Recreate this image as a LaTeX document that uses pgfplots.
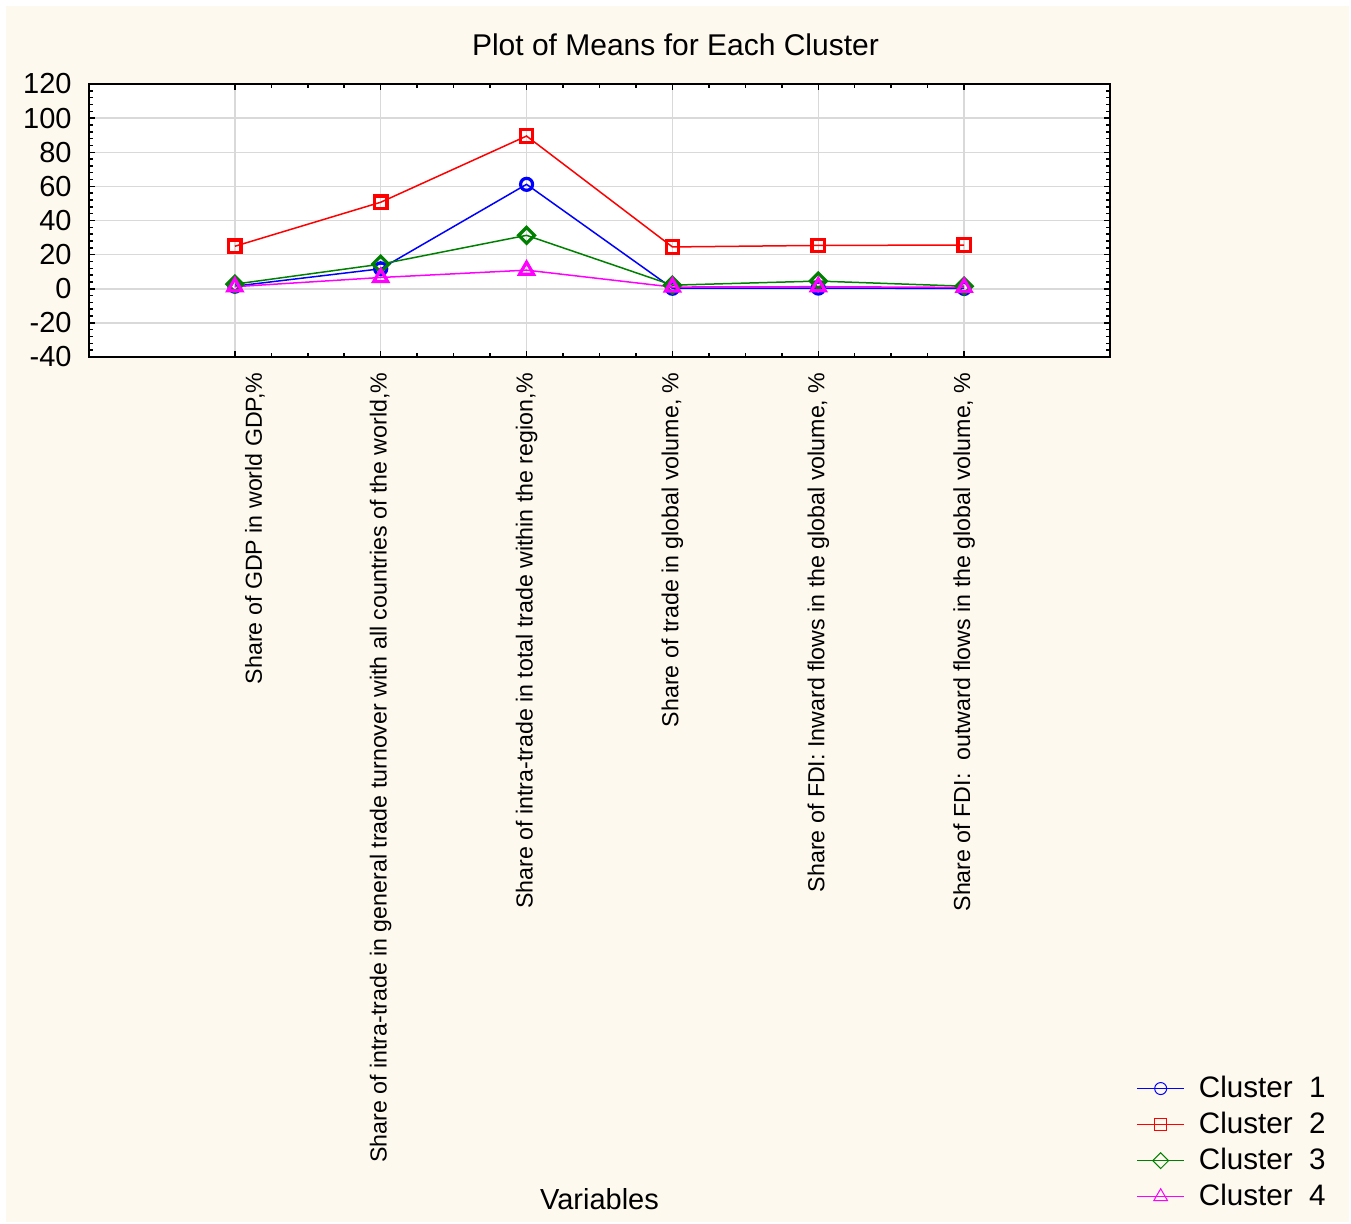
\documentclass[border=0pt]{standalone}
\usepackage{pgfplots}
\pgfplotsset{compat=1.18}
\usepackage{fontspec}
\setmainfont{Liberation Sans}
\definecolor{cream}{RGB}{254,249,238}
\definecolor{cgreen}{RGB}{0,128,0}
\definecolor{cblue}{RGB}{0,0,255}
\definecolor{cred}{RGB}{255,0,0}
\definecolor{cmag}{RGB}{255,0,255}
\begin{document}
\begin{tikzpicture}
\fill[white] (-44.5pt,178.5pt) rectangle (631pt,-433.5pt);
\fill[cream] (-41.5pt,175.5pt) rectangle (630pt,-432.5pt);
\begin{axis}[
  at={(0pt,0pt)}, anchor=south west,
  scale only axis, width=510.5pt, height=136.5pt,
  xmin=0, xmax=7, ymin=-40, ymax=120,
  xtick={1,2,3,4,5,6},
  xticklabels={
    {\raisebox{-10pt}[\height][\depth]{Share of GDP in world GDP,\%}},
    {Share of intra-trade in general trade turnover with all countries of the world,\%},
    {Share of intra-trade in total trade within the region,\%},
    {Share of trade in global volume, \%},
    {Share of FDI: Inward flows in the global volume, \%},
    {Share of FDI:\ \ outward flows in the global volume, \%}},
  ytick={-40,-20,0,20,40,60,80,100,120},
  minor x tick num=3, minor y tick num=4,
  tick align=inside, tick pos=both,
  major tick length=3pt, minor tick length=2pt,
  every tick/.style={black, line width=0.75pt},
  axis line style={line width=1pt},
  xmajorgrids, ymajorgrids,
  major grid style={line width=0.75pt, color=black!15},
  axis background/.style={fill=white},
  /pgf/number format/assume math mode=true,
  yticklabel style={font=\fontsize{14.5}{17}\selectfont, anchor=east, inner sep=0pt, xshift=-8.5pt},
  xticklabel style={font=\fontsize{11.6}{14}\selectfont, yshift=-7.5pt, rotate=90, anchor=east, inner sep=0pt},
  every axis title shift=0pt,
  title={Plot of Means for Each Cluster},
  title style={font=\fontsize{15}{18}\selectfont, at={(axis description cs:0.5744,1.1026)}, anchor=base, inner sep=0pt},
  xlabel={Variables},
  xlabel style={font=\fontsize{14.5}{17}\selectfont, at={(axis description cs:0.5,-3.1245)}, anchor=base, inner sep=0pt},
  legend style={draw=none, fill=none, inner sep=0pt, row sep=5.8pt, column sep=7pt,
    font=\fontsize{14.8}{17}\selectfont, nodes={inner sep=0pt},
    at={(axis description cs:1.0255,-2.6335)}, anchor=north west},
  legend cell align=left,
  legend image code/.code={\draw[mark repeat=2,mark phase=2,#1, every mark/.append style={line width=0.5pt}] plot coordinates {(0pt,0pt)(11.75pt,0pt)(23.5pt,0pt)};},
]
\addplot[cblue, line width=0.75pt, mark=o, mark size=3pt, every mark/.append style={line width=1.6pt}]
  coordinates {(1,1.5)(2,11.7)(3,61.2)(4,0.3)(5,0.4)(6,0.2)};
\addlegendentry{Cluster\ \ 1}
\addplot[cred, line width=0.75pt, mark=square, mark size=3.1pt, every mark/.append style={line width=1.6pt}]
  coordinates {(1,24.9)(2,50.7)(3,89.5)(4,24.5)(5,25.4)(6,25.6)};
\addlegendentry{Cluster\ \ 2}
\addplot[cgreen, line width=0.75pt, mark=square, mark size=2.8pt, every mark/.append style={rotate=45, line width=1.6pt}]
  coordinates {(1,2.7)(2,14.4)(3,31.3)(4,2.1)(5,4.5)(6,1.5)};
\addlegendentry{Cluster\ \ 3}
\addplot[cmag, line width=0.75pt, mark=triangle, mark size=4pt, every mark/.append style={line width=1.6pt}]
  coordinates {(1,1.2)(2,6.6)(3,10.9)(4,1.0)(5,1.2)(6,0.8)};
\addlegendentry{Cluster\ \ 4}
\end{axis}
\pgfresetboundingbox
\path[use as bounding box] (-44.5pt,178.5pt) rectangle (631pt,-433.5pt);
\end{tikzpicture}
\end{document}
